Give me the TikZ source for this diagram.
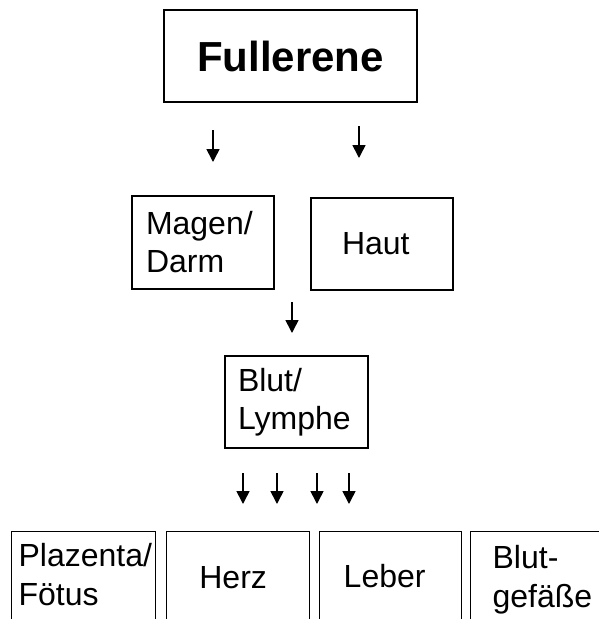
\documentclass[tikz,border=0pt]{standalone}
\usepackage{fontspec}
\setmainfont{Liberation Sans}
\usetikzlibrary{arrows.meta, positioning}

\begin{document}
\begin{tikzpicture}[x=1pt, y=-1pt, line width=1.3pt,
    organ/.style={draw, rectangle, inner sep=0pt, font=\fontsize{32}{38}\selectfont},
    organtext/.style={inner sep=0pt, align=left, font=\fontsize{32}{39}\selectfont},
    flow/.style={-{Triangle[width=13pt, length=13pt]}, line width=1.6pt}]
  \useasboundingbox (0,0) rectangle (599,619);
  % Boxes:
  \node[organ, minimum width=253, minimum height=92, font=\bfseries\fontsize{42}{50}\selectfont](fuller) at (290.5, 56){Fullerene};
  \node[organ, minimum width=142, minimum height=93, text width=114, align=left](magen) at (203, 242.5){Magen/\\Darm};
  \node[organ, minimum width=142, minimum height=92, text width=80, align=left](haut) at (382, 244){Haut};
  \node[organ, minimum width=143, minimum height=92, text width=117, align=left](blut) at (296.5, 402){Blut/\\Lymphe};
  \node[organ, anchor=north west, minimum width=144, minimum height=120](plaz) at (11, 531){};
  \node[organ, anchor=north west, minimum width=143, minimum height=120](herz) at (166, 531){};
  \node[organ, anchor=north west, minimum width=142, minimum height=120](leber) at (319, 531){};
  \node[organ, anchor=north west, minimum width=150, minimum height=120](gefaess) at (470, 531){};
  \node[organtext, anchor=north west](plaztext) at ([shift={(7, 12)}]plaz.north west){Plazenta/\\Fötus};
  \node[organtext, anchor=north](herztext) at ([shift={(-5, 35)}]herz.north){Herz};
  \node[organtext, anchor=north](lebertext) at ([shift={(-6, 33)}]leber.north){Leber};
  \node[organtext, anchor=north west](gefaesstext) at ([shift={(22, 14)}]gefaess.north west){Blut-\\gefäße};
  % Arrows:
  \coordinate (in1) at (213, 130);
  \coordinate (in1tip) at (213, 162);
  \coordinate (in2) at (359, 126);
  \coordinate (in2tip) at (359, 158);
  \coordinate (mid) at (292, 302);
  \coordinate (midtip) at (292, 333);
  \draw[flow] (in1) -- (in1tip);
  \draw[flow] (in2) -- (in2tip);
  \draw[flow] (mid) -- (midtip);
  \foreach \ax [count=\i] in {243, 277, 317, 349}{
    \coordinate (out\i) at (\ax, 473);
    \coordinate (out\i tip) at (\ax, 504);
    \draw[flow] (out\i) -- (out\i tip);
  }
\end{tikzpicture}
\end{document}
